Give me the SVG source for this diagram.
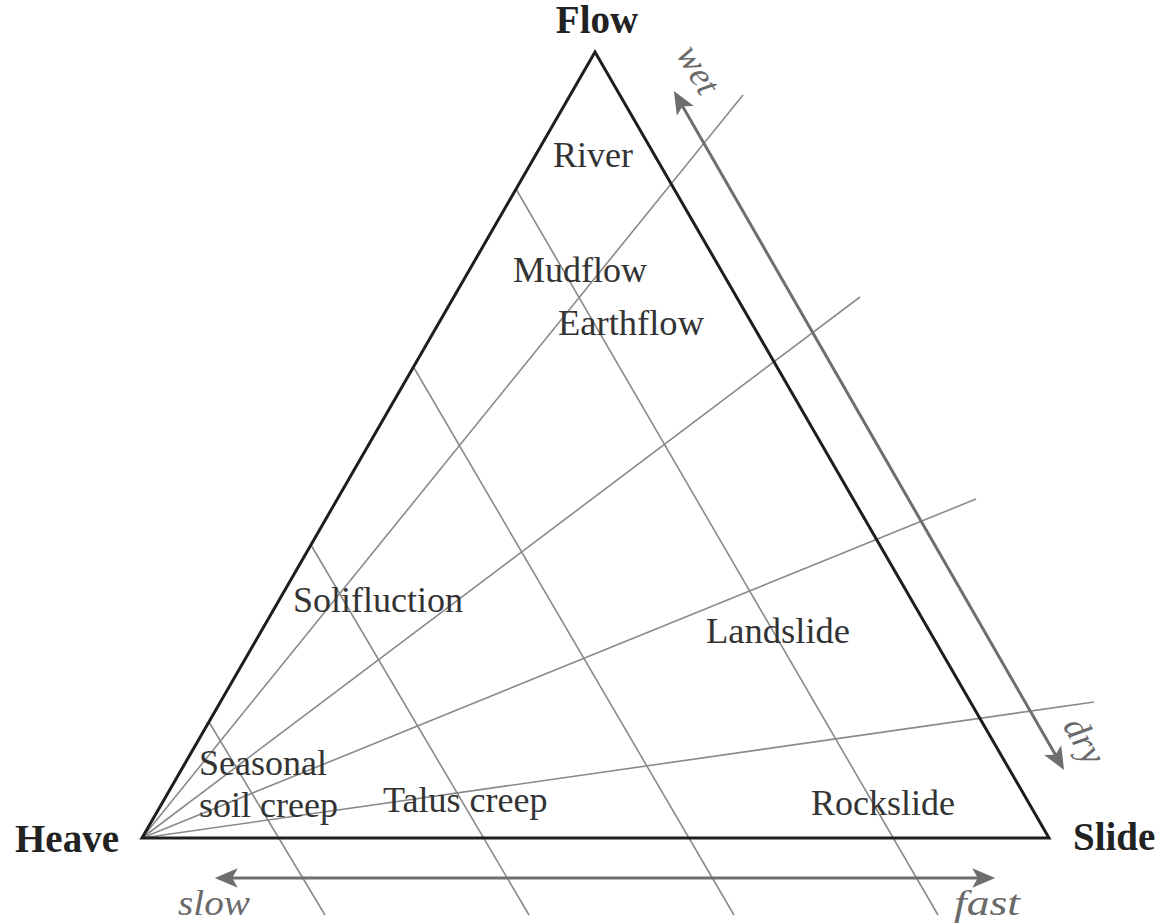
<svg xmlns="http://www.w3.org/2000/svg" width="1160" height="923" viewBox="0 0 1160 923">
<style>
.lbl{font-family:"Liberation Serif","Times New Roman",serif;font-size:36px;fill:#333}
.corner{font-family:"Liberation Serif","Times New Roman",serif;font-size:39px;font-weight:bold;fill:#222}
.it{font-family:"Liberation Serif","Times New Roman",serif;font-size:36px;font-style:italic;fill:#6a6a6a}
.grid{stroke:#8a8a8a;stroke-width:1.6;fill:none}
.arrow{stroke:#6e6e6e;stroke-width:3;fill:none;marker-start:url(#ah);marker-end:url(#ah)}
.tri{stroke:#1e1e1e;stroke-width:3;fill:none;stroke-linejoin:miter}
</style>
<defs>
<marker id="ah" markerUnits="userSpaceOnUse" markerWidth="24" markerHeight="24" viewBox="0 -10 22 20" refX="8" refY="0" orient="auto-start-reverse">
<path d="M21,0 L0,-9 L5,0 L0,9 Z" fill="#6e6e6e"/>
</marker>
</defs>
<g id="connectors">
<g id="heave-lines">
<line class="grid" x1="516" y1="189" x2="938" y2="915"/>
<line class="grid" x1="413.5" y1="367" x2="734" y2="915"/>
<line class="grid" x1="311" y1="545" x2="529" y2="915"/>
<line class="grid" x1="209" y1="722" x2="325" y2="915"/>
</g>
<g id="rays">
<line class="grid" x1="142" y1="838" x2="743" y2="95"/>
<line class="grid" x1="142" y1="838" x2="860" y2="297"/>
<line class="grid" x1="142" y1="838" x2="976" y2="499"/>
<line class="grid" x1="142" y1="838" x2="1094" y2="702"/>
</g>
<line id="wet-dry-arrow" class="arrow" x1="681" y1="103.4" x2="1057" y2="757.6"/>
<line id="slow-fast-arrow" class="arrow" x1="229" y1="878" x2="981" y2="878"/>
</g>
<g id="triangle">
<polygon class="tri" points="595,52 142,838 1049,838"/>
</g>
<g id="corner-flow"><text class="corner" x="597" y="33" text-anchor="middle">Flow</text></g>
<g id="corner-heave"><text class="corner" x="15" y="852">Heave</text></g>
<g id="corner-slide"><text class="corner" x="1073" y="850">Slide</text></g>
<g id="river"><text class="lbl" x="553" y="167">River</text></g>
<g id="mudflow"><text class="lbl" x="513" y="282">Mudflow</text></g>
<g id="earthflow"><text class="lbl" x="558" y="335" textLength="146" lengthAdjust="spacingAndGlyphs">Earthflow</text></g>
<g id="solifluction"><text class="lbl" x="293" y="612">Solifluction</text></g>
<g id="seasonal-soil-creep"><text class="lbl" x="199" y="775">Seasonal</text><text class="lbl" x="199" y="817">soil creep</text></g>
<g id="talus-creep"><text class="lbl" x="383" y="812">Talus creep</text></g>
<g id="landslide"><text class="lbl" x="706" y="643" textLength="144" lengthAdjust="spacingAndGlyphs">Landslide</text></g>
<g id="rockslide"><text class="lbl" x="811" y="815">Rockslide</text></g>
<g id="axis-labels">
<text class="it" x="178" y="915" textLength="72" lengthAdjust="spacingAndGlyphs">slow</text>
<text class="it" x="954" y="915" textLength="66" lengthAdjust="spacingAndGlyphs">fast</text>
<text class="it" transform="translate(696,71) rotate(60)" x="0" y="9" text-anchor="middle">wet</text>
<text class="it" transform="translate(1082,742) rotate(60)" x="0" y="9" text-anchor="middle">dry</text>
</g>
</svg>
